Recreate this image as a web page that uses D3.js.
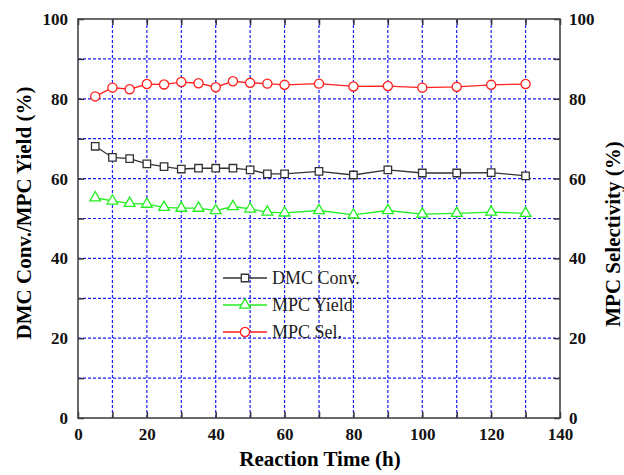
<!DOCTYPE html>
<html>
<head>
<meta charset="utf-8">
<script src="https://d3js.org/d3.v7.min.js"></script>
<style>
  body { margin: 0; background: #fff; }
  svg { display: block; }
</style>
</head>
<body>
<script>
  // data
  var hours = [5, 10, 15, 20, 25, 30, 35, 40, 45, 50, 55, 60, 70, 80, 90, 100, 110, 120, 130];
  var dmcConv = [68.1, 65.3, 65.0, 63.7, 63.0, 62.4, 62.6, 62.6, 62.6, 62.2, 61.2, 61.2, 61.8, 60.9, 62.2, 61.4, 61.4, 61.5, 60.7];
  var mpcYield = [55.2, 54.4, 53.8, 53.6, 52.8, 52.6, 52.6, 52.0, 53.0, 52.4, 51.6, 51.4, 52.0, 50.9, 52.0, 51.1, 51.3, 51.6, 51.3];
  var mpcSel = [80.6, 82.8, 82.4, 83.7, 83.6, 84.2, 83.9, 82.9, 84.4, 84.0, 83.8, 83.5, 83.8, 83.1, 83.2, 82.8, 83.0, 83.5, 83.7];
  var seriesNames = ["DMC Conv.", "MPC Yield", "MPC Sel."];
  var xTicks = [0, 20, 40, 60, 80, 100, 120, 140];
  var yTicks = [0, 20, 40, 60, 80, 100];

  var width = 624, height = 475;
  var margin = {top: 19, right: 64, bottom: 57, left: 78};
  var serif = 'Liberation Serif';

  var svg = d3.select('body').append('svg')
    .attr('width', width)
    .attr('height', height);

  var x = d3.scaleLinear().domain([0, 140]).range([margin.left, width - margin.right]);
  var yL = d3.scaleLinear().domain([0, 100]).range([height - margin.bottom, margin.top]);
  var yR = d3.scaleLinear().domain([0, 100]).range([height - margin.bottom, margin.top]);

  var x0 = margin.left, x1 = width - margin.right;
  var y0 = height - margin.bottom, y1 = margin.top;

  // dashed blue grid every 10
  var grid = svg.append('g');
  grid.selectAll('.gx').data(d3.range(10, 140, 10)).enter().append('line')
    .attr('x1', d => x(d)).attr('x2', d => x(d))
    .attr('y1', y0).attr('y2', y1)
    .attr('stroke', '#1a1aff').attr('stroke-width', 1.2).attr('stroke-dasharray', '3,2');
  grid.selectAll('.gy').data(d3.range(10, 100, 10)).enter().append('line')
    .attr('x1', x0).attr('x2', x1)
    .attr('y1', d => yL(d)).attr('y2', d => yL(d))
    .attr('stroke', '#1a1aff').attr('stroke-width', 1.2).attr('stroke-dasharray', '3,2');

  // axes with inward ticks every 10
  var minor = d3.range(0, 141, 10);
  var minorY = d3.range(0, 101, 10);
  function styleAxis(g) {
    g.attr('font-family', serif).attr('font-size', 17).attr('font-weight', 'bold');
    g.select('.domain').remove();
    g.selectAll('.tick line').attr('stroke', '#333').attr('stroke-width', 1.5);
    g.selectAll('.tick text').attr('fill', '#111');
  }
  svg.append('g').attr('transform', 'translate(0,' + y0 + ')')
    .call(d3.axisBottom(x).tickValues(minor).tickSize(-6).tickPadding(10)
      .tickFormat(d => xTicks.indexOf(d) >= 0 ? d : ''))
    .call(styleAxis);
  svg.append('g').attr('transform', 'translate(0,' + y1 + ')')
    .call(d3.axisTop(x).tickValues(minor).tickSize(-6).tickFormat(''))
    .call(styleAxis);
  svg.append('g').attr('transform', 'translate(' + x0 + ',0)')
    .call(d3.axisLeft(yL).tickValues(minorY).tickSize(-6).tickPadding(10)
      .tickFormat(d => yTicks.indexOf(d) >= 0 ? d : ''))
    .call(styleAxis);
  svg.append('g').attr('transform', 'translate(' + x1 + ',0)')
    .call(d3.axisRight(yR).tickValues(minorY).tickSize(-6).tickPadding(9)
      .tickFormat(d => yTicks.indexOf(d) >= 0 ? d : ''))
    .call(styleAxis);

  svg.append('rect')
    .attr('x', x0).attr('y', y1).attr('width', x1 - x0).attr('height', y0 - y1)
    .attr('fill', 'none').attr('stroke', '#444').attr('stroke-width', 1.6);

  // series
  var series = [
    {name: seriesNames[0], values: dmcConv, color: '#333333', shape: d3.symbolSquare, size: 56},
    {name: seriesNames[1], values: mpcYield, color: '#22ee22', shape: d3.symbolTriangle, size: 50},
    {name: seriesNames[2], values: mpcSel, color: '#ff2020', shape: d3.symbolCircle, size: 66}
  ];

  var line = d3.line().x(d => x(d[0])).y(d => d[2](d[1]));

  series.forEach(function(s, i) {
    var scale = i === 2 ? yR : yL;
    var pts = hours.map((h, j) => [h, s.values[j], scale]);
    svg.append('path').datum(pts)
      .attr('d', line)
      .attr('fill', 'none').attr('stroke', s.color).attr('stroke-width', 1.3);
    svg.selectAll('.m' + i).data(pts).enter().append('path')
      .attr('transform', d => 'translate(' + x(d[0]) + ',' + scale(d[1]) + ')')
      .attr('d', d3.symbol().type(s.shape).size(s.size))
      .attr('fill', '#fff').attr('stroke', s.color).attr('stroke-width', 1.3);
  });

  // legend
  var legend = svg.append('g').attr('transform', 'translate(223,278)');
  series.forEach(function(s, i) {
    var g = legend.append('g').attr('transform', 'translate(0,' + (i * 27) + ')');
    g.append('line').attr('x1', 0).attr('x2', 44).attr('y1', 0).attr('y2', 0)
      .attr('stroke', s.color).attr('stroke-width', 1.3);
    g.append('path').attr('transform', 'translate(22,0)')
      .attr('d', d3.symbol().type(s.shape).size(s.size))
      .attr('fill', '#fff').attr('stroke', s.color).attr('stroke-width', 1.3);
    g.append('text').attr('x', 49).attr('y', 6)
      .attr('font-family', serif).attr('font-size', 18)
      .attr('fill', '#222').text(s.name);
  });

  // axis titles
  svg.append('text')
    .attr('x', 320).attr('y', 466)
    .attr('text-anchor', 'middle')
    .attr('font-family', serif).attr('font-weight', 'bold').attr('font-size', 21)
    .text('Reaction Time (h)');
  svg.append('text')
    .attr('transform', 'translate(31,213) rotate(-90)')
    .attr('text-anchor', 'middle')
    .attr('font-family', serif).attr('font-weight', 'bold').attr('font-size', 21)
    .text('DMC Conv./MPC Yield (%)');
  svg.append('text')
    .attr('transform', 'translate(620,234) rotate(-90)')
    .attr('text-anchor', 'middle')
    .attr('font-family', serif).attr('font-weight', 'bold').attr('font-size', 21)
    .text('MPC Selectivity (%)');
</script>
</body>
</html>
